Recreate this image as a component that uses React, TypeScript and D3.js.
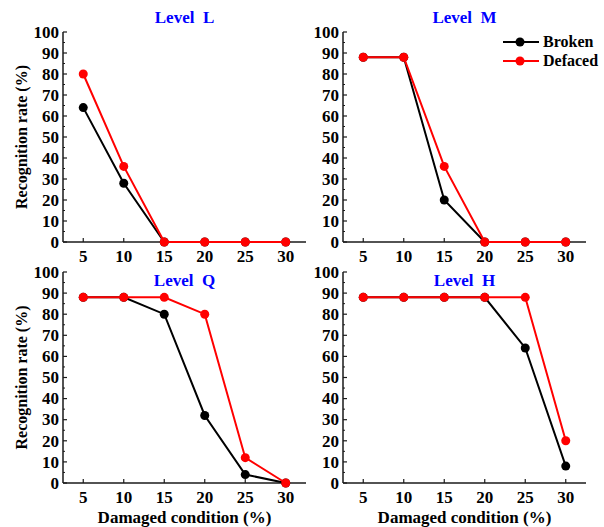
import React from "react";
import * as d3 from "d3";

const damage = [5, 10, 15, 20, 25, 30];
const yTicks = [0, 10, 20, 30, 40, 50, 60, 70, 80, 90, 100];
const levels = ["L", "M", "Q", "H"];
const brokenL = [64, 28, 0, 0, 0, 0];
const defacedL = [80, 36, 0, 0, 0, 0];
const brokenM = [88, 88, 20, 0, 0, 0];
const defacedM = [88, 88, 36, 0, 0, 0];
const brokenQ = [88, 88, 80, 32, 4, 0];
const defacedQ = [88, 88, 88, 80, 12, 0];
const brokenH = [88, 88, 88, 88, 64, 8];
const defacedH = [88, 88, 88, 88, 88, 20];
const seriesNames = ["Broken", "Defaced"];
const seriesColors = ["#000000", "#ff0000"];

const panelData = [
  [brokenL, defacedL],
  [brokenM, defacedM],
  [brokenQ, defacedQ],
  [brokenH, defacedH],
];

const FONT = "Liberation Serif";

const panels = [
  { left: 63, right: 306, top: 32, bottom: 242, ylab: true, xlab: false, titleY: 23 },
  { left: 343, right: 586, top: 32, bottom: 242, ylab: false, xlab: false, titleY: 23 },
  { left: 63, right: 306, top: 272, bottom: 483, ylab: true, xlab: true, titleY: 286 },
  { left: 343, right: 586, top: 272, bottom: 483, ylab: false, xlab: true, titleY: 286 },
];

const txt = (size: number, extra: any = {}) => ({
  fontFamily: FONT,
  fontWeight: 700,
  fontSize: size + "px",
  ...extra,
});

function Panel({ idx }: { idx: number }) {
  const p = panels[idx];
  const x = d3.scaleLinear().domain([2.5, 32.5]).range([p.left, p.right]);
  const y = d3.scaleLinear().domain([0, 100]).range([p.bottom, p.top]);
  const line = d3
    .line<number>()
    .x((_, i) => x(damage[i]))
    .y((v) => y(v));
  const minor = d3.range(5, 100, 10);
  const axisColor = "#1a1a1a";
  const cx = (p.left + p.right) / 2;
  return (
    <g>
      <line x1={p.left} x2={p.left} y1={p.bottom} y2={p.top} stroke={axisColor} strokeWidth={1.5} />
      <line x1={p.left} x2={p.right} y1={p.bottom} y2={p.bottom} stroke={axisColor} strokeWidth={1.5} />
      {yTicks.map((t) => (
        <g key={"y" + t}>
          <line x1={p.left} x2={p.left + 4} y1={y(t)} y2={y(t)} stroke={axisColor} strokeWidth={1.2} />
          <text x={p.left - 4} y={y(t)} dy="0.34em" textAnchor="end" style={txt(17)}>
            {t}
          </text>
        </g>
      ))}
      {minor.map((t) => (
        <line key={"m" + t} x1={p.left} x2={p.left + 2} y1={y(t)} y2={y(t)} stroke={axisColor} strokeWidth={1} />
      ))}
      {damage.map((d) => (
        <g key={"x" + d}>
          <line x1={x(d)} x2={x(d)} y1={p.bottom} y2={p.bottom - 4} stroke={axisColor} strokeWidth={1.2} />
          <text x={x(d)} y={p.bottom + 20} textAnchor="middle" style={txt(17)}>
            {d}
          </text>
        </g>
      ))}
      {panelData[idx].map((vals, si) => (
        <g key={"s" + si}>
          <path d={line(vals) || ""} fill="none" stroke={seriesColors[si]} strokeWidth={2} />
          {vals.map((v, i) => (
            <circle key={i} cx={x(damage[i])} cy={y(v)} r={4.5} fill={seriesColors[si]} />
          ))}
        </g>
      ))}
      <text
        x={cx}
        y={p.titleY}
        textAnchor="middle"
        fill="#0000ff"
        style={txt(17, { whiteSpace: "pre" })}
      >
        {"Level  " + levels[idx]}
      </text>
      {p.ylab && (
        <text
          transform={`translate(27,${(p.top + p.bottom) / 2}) rotate(-90)`}
          textAnchor="middle"
          style={txt(16)}
        >
          Recognition rate (%)
        </text>
      )}
      {p.xlab && (
        <text x={cx} y={p.bottom + 40} textAnchor="middle" style={txt(17)}>
          Damaged condition (%)
        </text>
      )}
    </g>
  );
}

function Legend() {
  const items = seriesNames.map((n, i) => ({ n, c: seriesColors[i], y: 42 + i * 19 }));
  return (
    <g>
      {items.map((it) => (
        <g key={it.n}>
          <line x1={503} x2={539} y1={it.y} y2={it.y} stroke={it.c} strokeWidth={2} />
          <circle cx={520} cy={it.y} r={4.5} fill={it.c} />
          <text x={543} y={it.y} dy="0.34em" style={txt(16)}>
            {it.n}
          </text>
        </g>
      ))}
    </g>
  );
}

export default function App() {
  return (
    <svg
      width={604}
      height={527}
      style={{ position: "absolute", left: 0, top: 0, background: "#fff" }}
    >
      <rect width={604} height={527} fill="#fff" />
      {panels.map((_, i) => (
        <Panel key={i} idx={i} />
      ))}
      <Legend />
    </svg>
  );
}
